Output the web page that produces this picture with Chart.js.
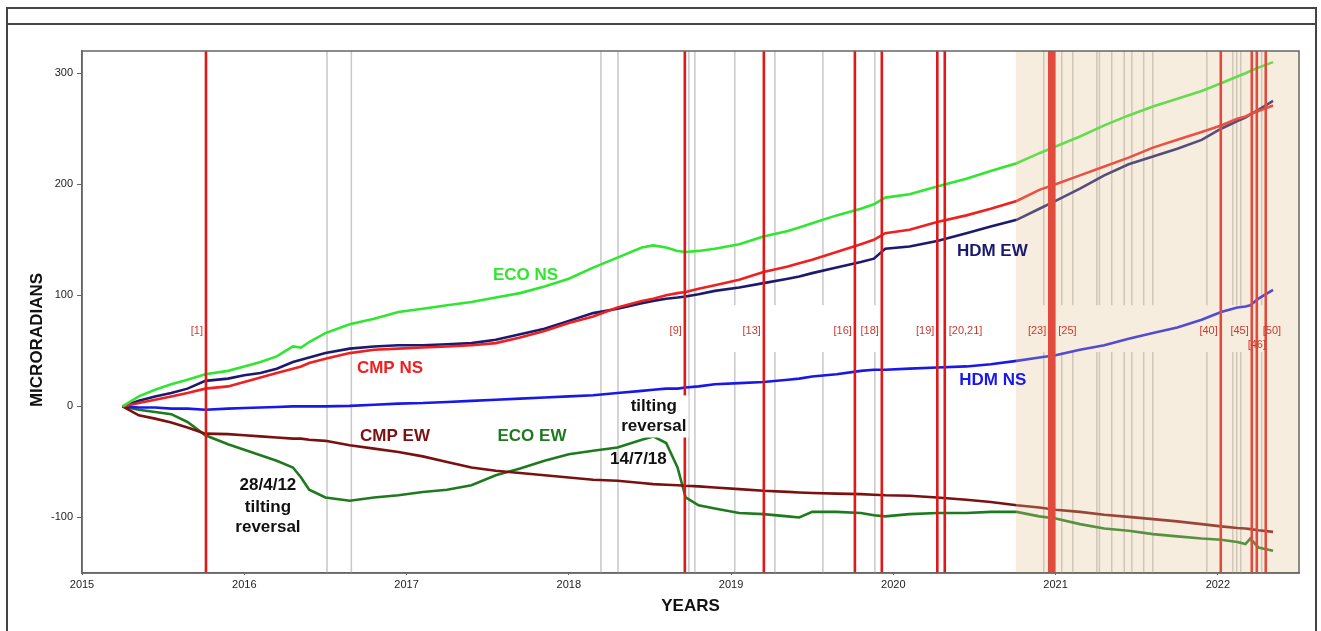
<!DOCTYPE html>
<html>
<head>
<meta charset="utf-8">
<title>Tilt records 2015-2022</title>
<script src="https://cdn.jsdelivr.net/npm/chart.js@4"></script>
<style>
  html, body { margin: 0; padding: 0; background: #fff; }
  #wrap { width: 1321px; height: 631px; position: relative; }
</style>
</head>
<body>
<div id="wrap"><canvas id="tilt-chart"></canvas></div>
<script>
// sample dates (decimal years) shared by all six series
const years = [
    2015.25, 2015.35, 2015.45, 2015.55, 2015.65, 2015.76, 2015.9,
    2016.0, 2016.1, 2016.2, 2016.3, 2016.35, 2016.4, 2016.5, 2016.65, 2016.8, 2016.95,
    2017.1, 2017.25, 2017.4, 2017.55, 2017.7, 2017.85,
    2018.0, 2018.15, 2018.3, 2018.45, 2018.52, 2018.6, 2018.67, 2018.72, 2018.8, 2018.9,
    2019.05, 2019.2, 2019.35, 2019.42, 2019.5, 2019.65, 2019.8, 2019.88, 2019.95,
    2020.1, 2020.27, 2020.45, 2020.6, 2020.76, 2020.9,
    2021.0, 2021.15, 2021.3, 2021.45, 2021.6, 2021.75, 2021.9,
    2022.02, 2022.12, 2022.17, 2022.2, 2022.25, 2022.34
];

const ecoNs = [
    0, 9, 15, 20, 24, 29, 32,
    36, 40, 45, 54, 53, 58, 66, 74, 79, 85,
    88, 91, 94, 98, 102, 108,
    115, 125, 134, 143, 145, 143, 140, 139, 140, 142,
    146, 153, 158, 161, 165, 172, 178, 182, 188,
    191, 198, 205, 212, 219, 228,
    234, 243, 253, 262, 270, 277, 284,
    291, 297, 300, 302, 305, 310
];
const cmpNs = [
    0, 3, 6, 9, 12, 16, 18,
    22, 26, 30, 34, 36, 39, 43, 48, 51, 52,
    53, 54, 55, 57, 62, 68,
    75, 81, 89, 95, 97, 100, 102, 103, 106, 109,
    114, 121, 126, 129, 132, 139, 146, 150, 156,
    159, 166, 172, 178, 185, 195,
    200, 208, 216, 224, 233, 240, 247,
    253, 259, 261, 263, 266, 271
];
const hdmEw = [
    0, 5, 9, 12, 16, 23, 25,
    28, 30, 34, 40, 42, 44, 48, 52, 54, 55,
    55, 56, 57, 60, 65, 70,
    77, 84, 88, 93, 95, 97, 98, 99, 101, 104,
    107, 111, 115, 117, 120, 125, 130, 133, 142,
    144, 149, 156, 162, 168, 178,
    185, 196, 208, 218, 225, 232, 240,
    250, 257, 260, 263, 267, 275
];
const hdmNs = [
    0, -1, -1, -2, -2, -3, -2,
    -1.5, -1, -0.5, 0, 0, 0, 0, 0.5, 1.5, 2.5,
    3, 4, 5, 6, 7, 8,
    9, 10, 12, 14, 15, 16, 16, 17, 18, 20,
    21, 22, 24, 25, 27, 29, 32, 33, 33,
    34, 35, 36, 38, 41, 44,
    46, 51, 55, 61, 66, 71, 78,
    85, 89, 90, 91, 97, 105
];
const cmpEw = [
    0, -8, -11, -14.5, -19, -24.5, -25,
    -26, -27, -28, -29, -29, -30, -31, -35, -38, -41,
    -45, -50, -55, -58, -60, -62,
    -64, -66, -67, -69, -70, -70.5, -71, -71.5, -72, -73,
    -74.5, -76, -77, -77.5, -78, -78.5, -79, -79.5, -80,
    -80.5, -82, -84, -86, -89, -91,
    -93, -95, -97.5, -99.5, -101.5, -103.5, -106,
    -108, -109.5, -110, -110.5, -111.5, -113
];
const ecoEw = [
    0, -3, -5, -7, -14, -26, -34,
    -39, -44, -49, -55, -64, -75, -82, -85, -82, -80,
    -77, -75, -71, -62, -56, -49,
    -43, -40, -37, -30, -27, -33, -55, -82, -89, -92,
    -96, -97, -99, -100, -95, -95, -96, -98, -99,
    -97, -96, -96, -95, -95, -99,
    -101, -106, -110, -112, -115, -117, -119,
    -120, -122, -124, -119, -127, -130
];

const seriesNames = ['ECO NS', 'CMP NS', 'HDM EW', 'HDM NS', 'CMP EW', 'ECO EW'];
const seriesColors = ['#30e630', '#ee2020', '#1c1a6e', '#1818e8', '#7a1010', '#1f7a1f'];
const seriesValues = [ecoNs, cmpNs, hdmEw, hdmNs, cmpEw, ecoEw];

// seismic events (red) and station changes (grey)
const eventYears = [2015.764, 2018.715, 2019.202, 2019.763, 2019.929, 2020.271, 2020.317,
    2020.961, 2020.977, 2020.992, 2022.018, 2022.209, 2022.240, 2022.295];
const eventTags = ['[1]', '[9]', '[13]', '[16]', '[18]', '[19]', '[20,21]', '[23]', '[25]', '[40]', '[45]', '[46]', '[50]'];
const eventTagYears = [2015.764, 2018.715, 2019.202, 2019.763, 2019.929, 2020.271, 2020.317,
    2020.961, 2020.992, 2022.018, 2022.209, 2022.240, 2022.295];
const eventTagSides = ['left', 'left', 'left', 'left', 'left', 'left', 'right', 'left', 'right', 'left', 'left', 'low', 'over'];
const stationYearsFull = [2016.51, 2016.66, 2018.198, 2018.303, 2018.74, 2018.777];
const stationYearsBroken = [2019.023, 2019.27, 2019.566, 2019.886, 2020.927, 2021.038, 2021.106,
    2021.254, 2021.27, 2021.346, 2021.423, 2021.47, 2021.543, 2021.599, 2021.932,
    2022.092, 2022.116, 2022.141, 2022.27];
const shadedFrom = 2020.755;

const xTicks = [2015, 2016, 2017, 2018, 2019, 2020, 2021, 2022];
const yTicks = [-100, 0, 100, 200, 300];

// text notes placed in data units: [text, year, value, colour]
const notes = [
    ['ECO NS', 2017.733, 117.6, '#30e630'],
    ['CMP NS', 2016.898, 34.4, '#ee2020'],
    ['HDM EW', 2020.61, 139.4, '#1c1a6e'],
    ['HDM NS', 2020.613, 23.5, '#1818e8'],
    ['CMP EW', 2016.929, -27.1, '#7a1010'],
    ['ECO EW', 2017.773, -27.1, '#1f7a1f'],
    ['14/7/18', 2018.429, -48, '#111'],
    ['28/4/12', 2016.146, -70.6, '#111'],
    ['tilting', 2016.146, -90.5, '#111'],
    ['reversal', 2016.146, -108.6, '#111']
];
const boxedNote = ['tilting', 'reversal'];
const boxedNoteAt = [2018.524, 0, -18.1];

const FONT = '"Liberation Sans", Arial, sans-serif';
Chart.defaults.font.family = FONT;

const decorations = {
    id: 'decorations',
    beforeDraw(chart) {
        const ctx = chart.ctx;
        ctx.save();
        ctx.fillStyle = '#fff';
        ctx.fillRect(0, 0, chart.width, chart.height);
        ctx.strokeStyle = '#444';
        ctx.lineWidth = 2;
        ctx.strokeRect(7, 8, chart.width - 12, chart.height + 20);
        ctx.beginPath();
        ctx.moveTo(8, 24);
        ctx.lineTo(chart.width - 5, 24);
        ctx.stroke();
        ctx.restore();
    },
    beforeDatasetsDraw(chart) {
        const { ctx, chartArea: a, scales: { x, y } } = chart;
        const gapTop = y.getPixelForValue(91), gapBottom = y.getPixelForValue(49);
        ctx.save();
        ctx.strokeStyle = '#c8c8c8';
        ctx.lineWidth = 1.5;
        ctx.beginPath();
        stationYearsFull.forEach(yr => {
            const px = x.getPixelForValue(yr);
            ctx.moveTo(px, a.top);
            ctx.lineTo(px, a.bottom);
        });
        stationYearsBroken.forEach(yr => {
            const px = x.getPixelForValue(yr);
            ctx.moveTo(px, a.top);
            ctx.lineTo(px, gapTop);
            ctx.moveTo(px, gapBottom);
            ctx.lineTo(px, a.bottom);
        });
        ctx.stroke();
        ctx.restore();
    },
    afterDatasetsDraw(chart) {
        const { ctx, chartArea: a, scales: { x, y } } = chart;
        ctx.save();

        // event lines
        ctx.strokeStyle = '#e01818';
        ctx.lineWidth = 2.6;
        ctx.beginPath();
        eventYears.forEach(yr => {
            const px = x.getPixelForValue(yr);
            ctx.moveTo(px, a.top);
            ctx.lineTo(px, a.bottom);
        });
        ctx.stroke();

        // shaded recent period
        const sx = x.getPixelForValue(shadedFrom);
        ctx.fillStyle = 'rgba(225, 195, 150, 0.3)';
        ctx.fillRect(sx, a.top, a.right - sx, a.bottom - a.top);

        // plot frame
        ctx.strokeStyle = '#666';
        ctx.lineWidth = 1.5;
        ctx.strokeRect(a.left, a.top, a.right - a.left, a.bottom - a.top);

        // event tags
        ctx.font = '11px ' + FONT;
        ctx.fillStyle = '#c83a2e';
        ctx.textBaseline = 'middle';
        const tagY = y.getPixelForValue(68), tagLowY = y.getPixelForValue(55);
        eventTags.forEach((t, i) => {
            const px = x.getPixelForValue(eventTagYears[i]);
            const side = eventTagSides[i];
            let ty = tagY;
            if (side === 'left') { ctx.textAlign = 'right'; ctx.fillText(t, px - 3, ty); }
            else if (side === 'right') { ctx.textAlign = 'left'; ctx.fillText(t, px + 4, ty); }
            else if (side === 'over') { ctx.textAlign = 'left'; ctx.fillText(t, px - 3, ty); }
            else { ctx.textAlign = 'center'; ctx.fillText(t, px, tagLowY); }
        });

        // series names and notes
        ctx.font = 'bold 17px ' + FONT;
        ctx.textAlign = 'center';
        notes.forEach(([t, yr, v, c]) => {
            ctx.fillStyle = c;
            ctx.fillText(t, x.getPixelForValue(yr), y.getPixelForValue(v));
        });

        // boxed note over the [9] line
        const bx = x.getPixelForValue(boxedNoteAt[0]);
        const by1 = y.getPixelForValue(boxedNoteAt[1]), by2 = y.getPixelForValue(boxedNoteAt[2]);
        const bw = ctx.measureText(boxedNote[1]).width;
        ctx.fillStyle = '#fff';
        ctx.fillRect(bx - bw / 2 - 1, by1 - 11, bw + 3, by2 - by1 + 22);
        ctx.fillStyle = '#111';
        ctx.fillText(boxedNote[0], bx, by1);
        ctx.fillText(boxedNote[1], bx, by2);

        // y axis title
        ctx.save();
        ctx.translate(37, 340);
        ctx.rotate(-Math.PI / 2);
        ctx.fillStyle = '#111';
        ctx.fillText('MICRORADIANS', 0, 0);
        ctx.restore();

        ctx.restore();
    }
};

new Chart(document.getElementById('tilt-chart').getContext('2d'), {
    type: 'line',
    data: {
        datasets: seriesNames.map((name, i) => ({
            label: name,
            data: years.map((yr, j) => ({ x: yr, y: seriesValues[i][j] })),
            borderColor: seriesColors[i],
            borderWidth: 2.6,
            pointRadius: 0,
            tension: 0,
            fill: false
        }))
    },
    options: {
        responsive: true,
        maintainAspectRatio: false,
        animation: false,
        layout: { padding: { top: 51, right: 22, left: 0, bottom: 0 } },
        plugins: { legend: { display: false }, tooltip: { enabled: false } },
        scales: {
            x: {
                type: 'linear',
                min: 2015,
                max: 2022.5,
                afterBuildTicks: s => { s.ticks = xTicks.map(v => ({ value: v })); },
                afterFit: s => { s.height = 58; },
                ticks: { callback: v => String(v), color: '#222', font: { size: 11 }, padding: 3, maxRotation: 0 },
                grid: { drawOnChartArea: false, drawTicks: true, tickLength: 2, color: '#666' },
                border: { color: '#666', width: 1.5 },
                title: { display: true, text: 'YEARS', color: '#111', font: { size: 17, weight: 'bold' }, padding: { top: 0, bottom: 14 } }
            },
            y: {
                min: -150,
                max: 320,
                afterBuildTicks: s => { s.ticks = yTicks.map(v => ({ value: v })); },
                afterFit: s => { s.width = 82; },
                ticks: { color: '#222', font: { size: 11 }, padding: 4 },
                grid: { drawOnChartArea: false, drawTicks: true, tickLength: 5, color: '#666' },
                border: { color: '#666', width: 1.5 }
            }
        }
    },
    plugins: [decorations]
});
</script>
</body>
</html>
